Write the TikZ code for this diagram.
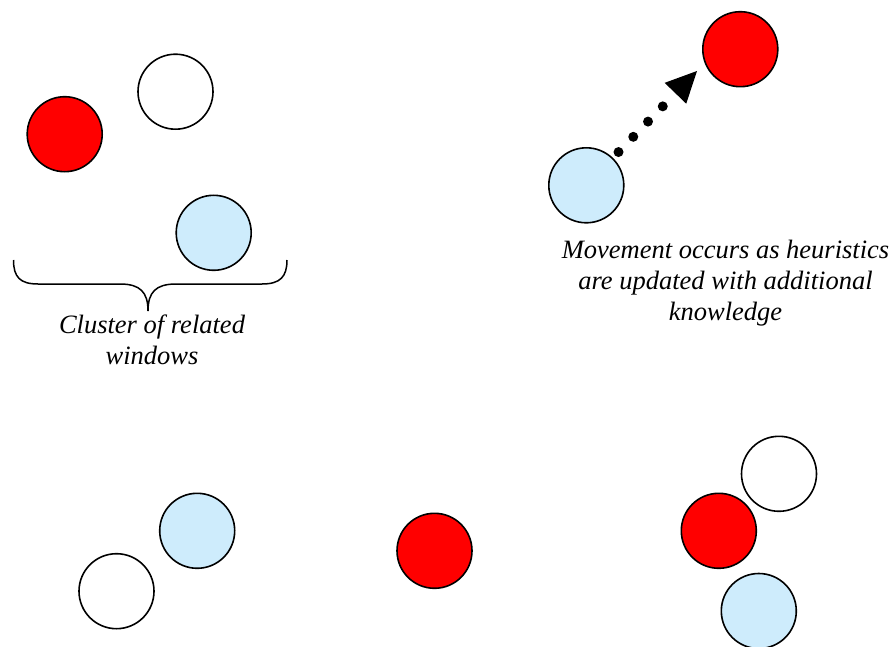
\documentclass[tikz,border=0pt]{standalone}
\usepackage{fontspec}
\setmainfont{Liberation Serif}
\usetikzlibrary{arrows.meta}
\definecolor{winred}{RGB}{255,0,0}
\definecolor{winblue}{RGB}{206,236,252}
\tikzset{
  win/.style={circle,draw,line width=1.6pt,minimum size=75pt,inner sep=0pt},
  note/.style={font=\itshape\fontsize{26.5}{31}\selectfont,align=center,inner sep=0pt,anchor=base},
  move/.style={line width=10pt,line cap=round,dash pattern=on 0pt off 21.2pt,shorten <=8pt,
    -{Triangle[length=31pt,width=30pt,line width=0pt]}},
}
\begin{document}
\begin{tikzpicture}[x=1pt,y=-1pt]
    \useasboundingbox (0,0) rectangle (896,647);
    % cluster of related windows
    \foreach \n/\x/\y/\c in {r1/64.7/134.2/winred, w1/175.5/91.7/white, b1/213.7/232.8/winblue}
    \node[win,fill=\c] (\n) at (\x,\y) {};
    \draw[line width=1.5pt] (13.5,260) .. controls (13.5,277) and (20,284) .. (38,284) -- (120,284)
        .. controls (140,284) and (148,292) .. (148,311)
        .. controls (148,292) and (156,284) .. (176,284) -- (262,284)
        .. controls (280,284) and (287,277) .. (287,260);
    \node[note] (cluster) at (152,364) {Cluster of related\\windows};
    % movement
    \foreach \n/\x/\y/\c in {b2/586.3/185.3/winblue, r2/740.3/49.2/winred}
    \node[win,fill=\c] (\n) at (\x,\y) {};
    \coordinate (tip) at (697,71);
    \draw[move] (b2) -- (tip);
    \node[note] (movement) at (725.5,320) {Movement occurs as heuristics\\are updated with additional\\knowledge};
    % windows below
    \foreach \n/\x/\y/\c in {w3/116.5/591.2/white, b3/197.2/530.8/winblue, r3/434.5/550.8/winred,
        w4/779/473.8/white, r4/718.8/530.8/winred, b4/758.8/611/winblue}
    \node[win,fill=\c] (\n) at (\x,\y) {};
\end{tikzpicture}
\end{document}
